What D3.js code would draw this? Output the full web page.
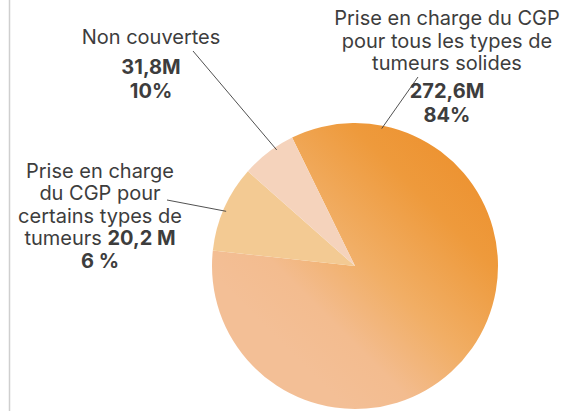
<!DOCTYPE html>
<html>
<head>
<meta charset="utf-8">
<script src="https://cdn.jsdelivr.net/npm/d3@7"></script>
<style>
  body { margin: 0; background: #fff; }
  svg text { font-family: Inter, "Noto Sans", sans-serif; fill: #3d3d3d; }
</style>
</head>
<body>
<div id="chart"></div>
<script>
// data
const categories = ["Prise en charge du CGP pour tous les types de tumeurs solides", "Non couvertes", "Prise en charge du CGP pour certains types de tumeurs"];
const values = [272.6, 31.8, 20.2];
const valueLabels = ["272,6M", "31,8M", "20,2 M"];
const pctLabels = ["84%", "10%", "6 %"];

const width = 561, height = 411;
const cx = 355, cy = 266, radius = 143;

const svg = d3.select("#chart").append("svg")
    .attr("width", width)
    .attr("height", height);

// left border line
svg.append("line")
    .attr("x1", 9.5).attr("x2", 9.5)
    .attr("y1", 0).attr("y2", height)
    .attr("stroke", "#cfcfcf")
    .attr("stroke-width", 1.5);

const defs = svg.append("defs");
const gBig = defs.append("linearGradient").attr("id", "gBig")
    .attr("gradientUnits", "userSpaceOnUse")
    .attr("x1", cx + 110).attr("y1", cy - 130)
    .attr("x2", cx - 130).attr("y2", cy + 110);
gBig.append("stop").attr("offset", 0).attr("stop-color", "#eb8720");
gBig.append("stop").attr("offset", 0.4).attr("stop-color", "#ee9a3c");
gBig.append("stop").attr("offset", 0.65).attr("stop-color", "#f1ae65");
gBig.append("stop").attr("offset", 0.85).attr("stop-color", "#f3bc8f");
gBig.append("stop").attr("offset", 1).attr("stop-color", "#f3bf96");

const gMid = defs.append("linearGradient").attr("id", "gMid")
    .attr("gradientUnits", "userSpaceOnUse")
    .attr("x1", cx - 130).attr("y1", cy - 50)
    .attr("x2", cx).attr("y2", cy);
gMid.append("stop").attr("offset", 0).attr("stop-color", "#f3ca93");
gMid.append("stop").attr("offset", 1).attr("stop-color", "#f1c0a0");

const fills = ["url(#gBig)", "url(#gMid)", "#f5d3bc"];

const startA = -26.1 * Math.PI / 180;
const pie = d3.pie().sort(null).startAngle(startA).endAngle(startA + 2 * Math.PI);
const arcs = pie(values);
const arc = d3.arc().innerRadius(0).outerRadius(radius);

const g = svg.append("g").attr("transform", `translate(${cx},${cy})`);
g.selectAll("path")
    .data(arcs)
    .join("path")
    .attr("d", arc)
    .attr("fill", (d, i) => fills[i]);

// label blocks (lines of text), anchored at a centre x
const labels = [
    {x: 447, lines: [["Prise en charge du CGP"], ["pour tous les types de"], ["tumeurs solides"]], y0: 25, dy: 22.5,
     bold: [valueLabels[0], pctLabels[0]], by0: 98, bdy: 24,
     lead: {from: [418, 77], angle: 11}},
    {x: 151, lines: [["Non couvertes"]], y0: 44, dy: 22.5,
     bold: [valueLabels[1], pctLabels[1]], by0: 74, bdy: 23.5,
     lead: {from: [193, 51], angle: 326}},
    {x: 100, lines: [["Prise en charge"], ["du CGP pour"], ["certains types de"], ["tumeurs ", valueLabels[2]], [pctLabels[2]]],
     y0: 178, dy: 22.4,
     lead: {from: [167, 200], angle: 293}}
];

labels.forEach((lb, li) => {
    lb.lines.forEach((parts, k) => {
        const t = svg.append("text")
            .attr("x", lb.x)
            .attr("y", lb.y0 + k * lb.dy)
            .attr("text-anchor", "middle")
            .attr("font-size", "20px");
        parts.forEach(p => {
            const isBold = valueLabels.includes(p) || pctLabels.includes(p);
            t.append("tspan").text(p).attr("font-weight", isBold ? 700 : 400);
        });
    });
    if (lb.bold) {
        lb.bold.forEach((b, k) => {
            svg.append("text")
                .attr("x", lb.x)
                .attr("y", lb.by0 + k * lb.bdy)
                .attr("text-anchor", "middle")
                .attr("font-size", "20px")
                .attr("font-weight", 700)
                .text(b);
        });
    }
    const a = lb.lead.angle * Math.PI / 180;
    const r = radius - 3;
    svg.append("line")
        .attr("x1", lb.lead.from[0]).attr("y1", lb.lead.from[1])
        .attr("x2", cx + r * Math.sin(a)).attr("y2", cy - r * Math.cos(a))
        .attr("stroke", "#3d3d3d")
        .attr("stroke-width", 0.9);
});
</script>
</body>
</html>
